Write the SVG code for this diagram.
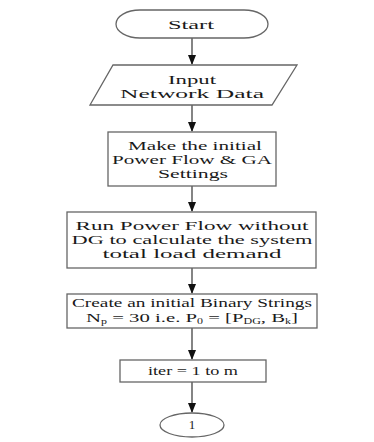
<svg xmlns="http://www.w3.org/2000/svg" width="374" height="442" viewBox="0 0 374 442">
<style>
.s{fill:#fff;stroke:#666;stroke-width:1.3}
.t{font-family:"Liberation Serif","Times New Roman",serif;font-size:13px;fill:#1a1a1a;text-anchor:middle}
.c{stroke:#333;stroke-width:1.2;fill:none}
</style>
<defs>
<marker id="ah" markerWidth="10" markerHeight="8" refX="9" refY="4" orient="auto" markerUnits="userSpaceOnUse">
<path d="M0,0 L10,4 L0,8 Z" fill="#111"/>
</marker>
</defs>
<rect width="374" height="442" fill="#fff"/>
<g id="connectors">
<line class="c" x1="192" y1="38" x2="192" y2="64" marker-end="url(#ah)"/>
<line class="c" x1="192" y1="105" x2="192" y2="131" marker-end="url(#ah)"/>
<line class="c" x1="192" y1="186" x2="192" y2="211" marker-end="url(#ah)"/>
<line class="c" x1="192" y1="268" x2="192" y2="293" marker-end="url(#ah)"/>
<line class="c" x1="192" y1="328" x2="192" y2="359" marker-end="url(#ah)"/>
<line class="c" x1="192" y1="382" x2="192" y2="412" marker-end="url(#ah)"/>
</g>
<g id="start">
<rect class="s" x="116" y="10" width="152" height="28" rx="24" ry="14"/>
<text class="t" x="191" y="29" textLength="46" lengthAdjust="spacingAndGlyphs">Start</text>
</g>
<g id="input">
<polygon class="s" points="113,65 297,65 272,105 90,105"/>
<text class="t" x="192" y="84" textLength="48" lengthAdjust="spacingAndGlyphs">Input</text>
<text class="t" x="192" y="98" textLength="144" lengthAdjust="spacingAndGlyphs">Network Data</text>
</g>
<g id="settings">
<rect class="s" x="108" y="132" width="168" height="54"/>
<text class="t" x="195" y="150" textLength="134" lengthAdjust="spacingAndGlyphs">Make the initial</text>
<text class="t" x="192" y="164" textLength="160" lengthAdjust="spacingAndGlyphs">Power Flow &amp; GA</text>
<text class="t" x="193" y="178" textLength="70" lengthAdjust="spacingAndGlyphs">Settings</text>
</g>
<g id="runpf">
<rect class="s" x="67" y="212" width="249" height="56"/>
<text class="t" x="192" y="230" textLength="233" lengthAdjust="spacingAndGlyphs">Run Power Flow without</text>
<text class="t" x="192" y="244" textLength="241" lengthAdjust="spacingAndGlyphs">DG to calculate the system</text>
<text class="t" x="192" y="258" textLength="179" lengthAdjust="spacingAndGlyphs">total load demand</text>
</g>
<g id="binary">
<rect class="s" x="67" y="294" width="250" height="34"/>
<text class="t" x="192" y="307" font-size="12" textLength="240" lengthAdjust="spacingAndGlyphs">Create an initial Binary Strings</text>
<text class="t" x="192" y="322" font-size="12" textLength="212" lengthAdjust="spacingAndGlyphs">N<tspan font-size="7.5" dy="1.5">p</tspan><tspan dy="-1.5"> = 30 i.e. P</tspan><tspan font-size="7.5" dy="1.5">0</tspan><tspan dy="-1.5"> = [P</tspan><tspan font-size="7.5" dy="1.5">DG</tspan><tspan dy="-1.5">, B</tspan><tspan font-size="7.5" dy="1.5">k</tspan><tspan dy="-1.5">]</tspan></text>
</g>
<g id="iter">
<rect class="s" x="120" y="360" width="146" height="22"/>
<text class="t" x="193" y="375" textLength="90" lengthAdjust="spacingAndGlyphs">iter = 1 to m</text>
</g>
<g id="connector1">
<ellipse class="s" cx="192" cy="425" rx="32" ry="12"/>
<text class="t" x="192" y="429">1</text>
</g>
</svg>
